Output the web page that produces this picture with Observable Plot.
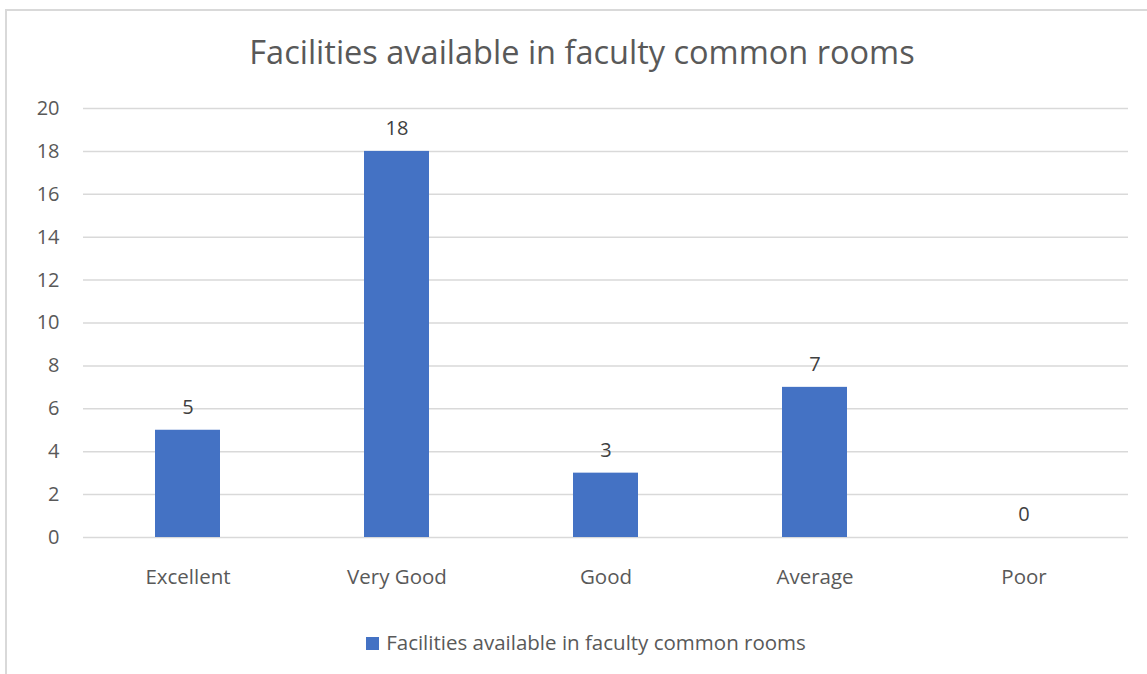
<!DOCTYPE html>
<html>
<head>
<meta charset="utf-8">
<script src="https://cdn.jsdelivr.net/npm/d3@7"></script>
<script src="https://cdn.jsdelivr.net/npm/@observablehq/plot@0.6"></script>
<style>
  body { margin: 0; background: #fff; }
  #wrap { position: relative; width: 1147px; height: 674px; overflow: hidden; font-family: "Open Sans", sans-serif; color: #595959; }
  #frame { position: absolute; left: 5px; top: 9px; width: 1200px; height: 700px; border-left: 2px solid #d9d9d9; border-top: 2px solid #d9d9d9; }
  #title { position: absolute; left: 0; width: 1164px; top: 30px; text-align: center; font-size: 32.5px; line-height: 44px; }
  #chart { position: absolute; left: 0; top: 0; }
  #legend { position: absolute; left: 0; width: 1172px; top: 628px; text-align: center; font-size: 20.5px; line-height: 28px; }
  #legend .sw { display: inline-block; width: 13px; height: 13px; background: #4472C4; vertical-align: 0px; margin-right: 7px; }
</style>
</head>
<body>
<div id="wrap">
  <div id="frame"></div>
  <div id="chart"></div>
  <div id="title">Facilities available in faculty common rooms</div>
  <div id="legend"><span class="sw"></span>Facilities available in faculty common rooms</div>
</div>
<script>
const categories = ["Excellent", "Very Good", "Good", "Average", "Poor"];
const values = [5, 18, 3, 7, 0];
const yTicks = [0, 2, 4, 6, 8, 10, 12, 14, 16, 18, 20];

const data = categories.map((c, i) => ({category: c, value: values[i]}));

const chart = Plot.plot({
  width: 1147,
  height: 674,
  marginLeft: 83,
  marginRight: 19,
  marginTop: 108,
  marginBottom: 137,
  style: {fontFamily: "'Open Sans', sans-serif", fontSize: "20px", color: "#595959", background: "transparent"},
  x: {domain: categories, paddingInner: 0.689, paddingOuter: 0.344, label: null},
  y: {domain: [0, 20], label: null},
  marks: [
    Plot.gridY(yTicks, {stroke: "#d9d9d9", strokeOpacity: 1, strokeWidth: 1.5}),
    Plot.axisY(yTicks, {tickSize: 0, tickPadding: 24, label: null, fill: "#595959", fontSize: 20}),
    Plot.axisX({tickSize: 0, tickPadding: 32, label: null, fill: "#595959", fontSize: 20.5}),
    Plot.barY(data, {x: "category", y: "value", fill: "#4472C4"}),
    Plot.text(data, {x: "category", y: "value", text: d => String(d.value), dy: -23, fill: "#404040", fontSize: 20})
  ]
});
document.getElementById("chart").appendChild(chart);
</script>
</body>
</html>
